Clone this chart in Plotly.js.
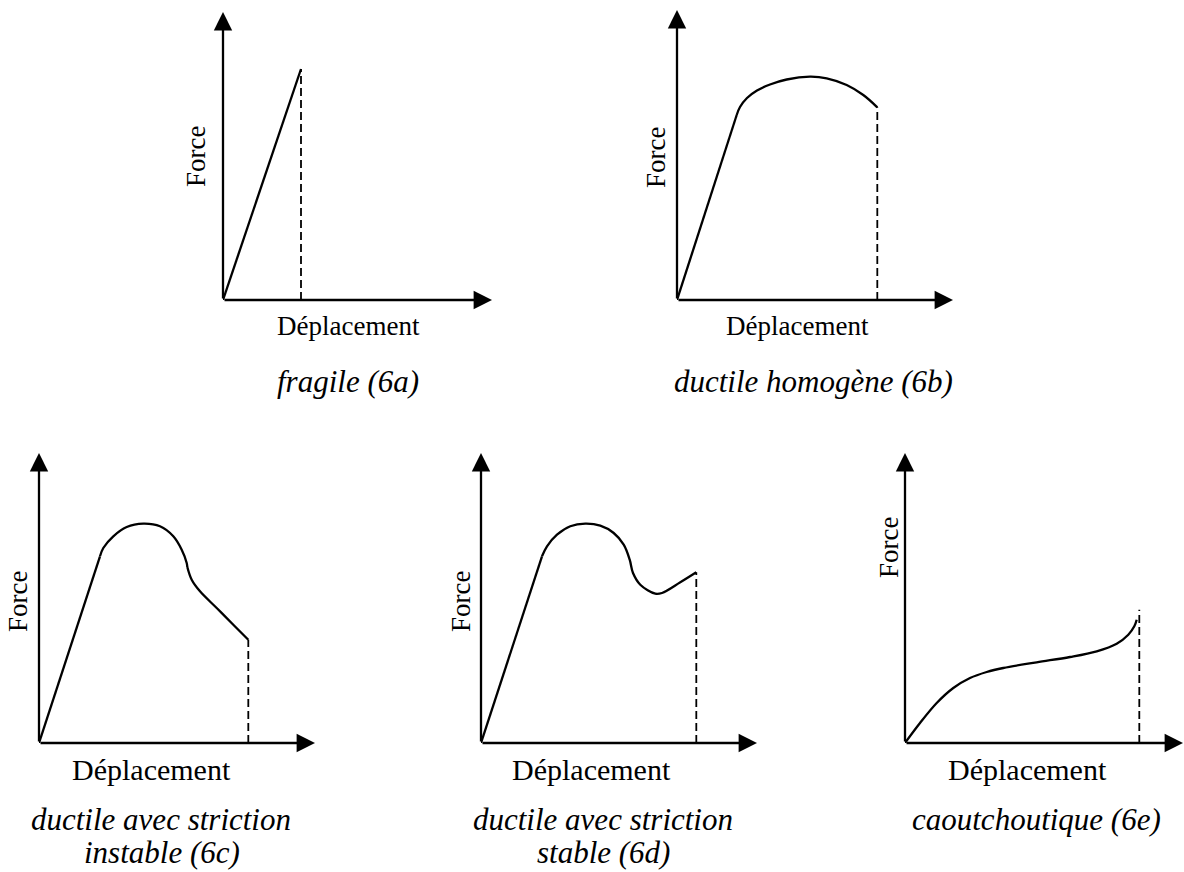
<!DOCTYPE html>
<html><head><meta charset="utf-8">
<script src="https://cdn.plot.ly/plotly-3.0.1.min.js"></script>
<style>html,body{margin:0;padding:0;background:#fff}</style>
</head><body><div id="chart" style="width:1184px;height:872px"></div>
<script>
// ---- data (x = déplacement, y = force, arbitrary units) ----
const fragileX = [0, 78];
const fragileY = [0, 231];
const fragileRuptureX = [78, 78];
const fragileRuptureY = [0, 231];

const homogeneRiseX = [0, 59.7];
const homogeneRiseY = [0, 185];
const homogeneArcX = [59.7, 63, 70, 80, 93, 109.7, 133, 149.7, 169.7, 186.3, 200.3];
const homogeneArcY = [185, 193, 202, 209.5, 215.5, 220.5, 223.3, 221.7, 215, 205, 192.7];
const homogeneRuptureX = [200.3, 200.3];
const homogeneRuptureY = [0, 192.7];

const instableRiseX = [0, 61];
const instableRiseY = [0, 186.7];
const instablePeakX = [61, 64.3, 74.3, 87.7, 104.3, 121, 134.3, 142.7, 147.7, 148.3];
const instablePeakY = [186.7, 195, 206.7, 216, 219.3, 216.7, 206.7, 193.3, 180, 176];
const instableNeckX = [148.3, 152.7, 161, 177.7, 194.3, 209.3];
const instableNeckY = [176, 163.3, 151.7, 135, 118.3, 103.3];
const instableRuptureX = [209.3, 209.3];
const instableRuptureY = [0, 103.3];

const stableRiseX = [0, 61];
const stableRiseY = [0, 186.7];
const stableNeckX = [61, 66, 76, 89.3, 104.3, 119.3, 132.7, 142.7, 148.7, 152, 159.3, 174.3, 181, 199.3, 215.3];
const stableNeckY = [186.7, 196.7, 208.3, 216.7, 219.3, 217.3, 210, 198.3, 183.3, 170, 158.3, 149.3, 150, 160.7, 170.7];
const stableRuptureX = [215.3, 215.3];
const stableRuptureY = [0, 170.7];

const caoutchoucX = [0, 15, 31.7, 48.3, 65, 81.7, 98.3, 131.7, 165, 191.7, 211.7, 223.3, 229.3, 231.7];
const caoutchoucY = [0, 20, 40, 55, 65, 71, 75, 80.7, 86, 91.7, 99.3, 108.3, 116.7, 123.3];
const caoutchoucRuptureX = [234.3, 234.3];
const caoutchoucRuptureY = [0, 133.3];

const axisLengthX = [269, 276, 276, 276, 278];
const axisLengthY = [288, 290, 290, 290, 290];

const forceLabel = 'Force';
const displacementLabel = 'Déplacement';
const captions = [
  ['fragile (6a)'],
  ['ductile homogène (6b)'],
  ['ductile avec striction', 'instable (6c)'],
  ['ductile avec striction', 'stable (6d)'],
  ['caoutchoutique (6e)']
];

// ---- layout (pixel placement of panels and texts) ----
const W = 1184, H = 872;
const origins = [[223, 300], [677, 300], [39, 743], [481, 743], [905, 743]];
const forcePos = [[196, 157], [656, 158], [18, 602], [461, 602], [889, 548]];
const dispPos = [[349, 326, 27], [797, 326, 27], [151, 769, 30], [591, 769, 30], [1027, 769, 30]];
const capPos = [[[348, 381]], [[813, 381]], [[161, 819], [162, 852]], [[603, 819], [603, 852]], [[1036, 819]]];

const px = v => v / W;
const py = v => 1 - v / H;
const ax = i => (i === 0 ? '' : String(i + 1));

const solid = {color: '#000', width: 2.3};
const dashed = {color: '#000', width: 1.8, dash: '8px,4px'};
const serif = 'Liberation Serif, Times New Roman, serif';

function tr(i, xs, ys, line, shape) {
  return {x: xs, y: ys, type: 'scatter', mode: 'lines', xaxis: 'x' + ax(i), yaxis: 'y' + ax(i),
    line: Object.assign({shape: shape || 'linear', smoothing: 1}, line), hoverinfo: 'skip', showlegend: false};
}

const traces = [
  tr(0, fragileX, fragileY, solid),
  tr(0, fragileRuptureX, fragileRuptureY, dashed),
  tr(1, homogeneRiseX, homogeneRiseY, solid),
  tr(1, homogeneArcX, homogeneArcY, solid, 'spline'),
  tr(1, homogeneRuptureX, homogeneRuptureY, dashed),
  tr(2, instableRiseX, instableRiseY, solid),
  tr(2, instablePeakX, instablePeakY, solid, 'spline'),
  tr(2, instableNeckX, instableNeckY, solid, 'spline'),
  tr(2, instableRuptureX, instableRuptureY, dashed),
  tr(3, stableRiseX, stableRiseY, solid),
  tr(3, stableNeckX, stableNeckY, solid, 'spline'),
  tr(3, stableRuptureX, stableRuptureY, dashed),
  tr(4, caoutchoucX, caoutchoucY, solid, 'spline'),
  tr(4, caoutchoucRuptureX, caoutchoucRuptureY, dashed)
];

const layout = {
  width: W, height: H, margin: {l: 0, r: 0, t: 0, b: 0},
  paper_bgcolor: '#fff', plot_bgcolor: 'rgba(0,0,0,0)', showlegend: false,
  annotations: [], font: {family: serif, color: '#000'}
};

const hidden = {showgrid: false, zeroline: false, showline: false, showticklabels: false, ticks: '', fixedrange: true};

for (let i = 0; i < 5; i++) {
  const [ox, oy] = origins[i];
  const lx = axisLengthX[i], ly = axisLengthY[i];
  const xa = 'x' + ax(i), ya = 'y' + ax(i);
  layout['xaxis' + ax(i)] = Object.assign({}, hidden, {domain: [px(ox), px(ox + lx)], range: [0, lx], anchor: ya});
  layout['yaxis' + ax(i)] = Object.assign({}, hidden, {domain: [py(oy), py(oy - ly)], range: [0, ly], anchor: xa});
  // axes with arrowheads
  const arrow = {xref: xa, yref: ya, axref: xa, ayref: ya, ax: 0, ay: 0, text: '', showarrow: true,
    arrowhead: 2, arrowsize: 1.6, arrowwidth: 2.3, arrowcolor: '#000', standoff: 0};
  layout.annotations.push(Object.assign({}, arrow, {x: lx, y: 0}));
  layout.annotations.push(Object.assign({}, arrow, {x: 0, y: ly}));
  // Force label
  layout.annotations.push({xref: 'paper', yref: 'paper', x: px(forcePos[i][0]), y: py(forcePos[i][1]),
    xanchor: 'center', yanchor: 'middle', text: forceLabel, textangle: -90, showarrow: false,
    font: {family: serif, size: 27, color: '#000'}});
  // Déplacement label
  layout.annotations.push({xref: 'paper', yref: 'paper', x: px(dispPos[i][0]), y: py(dispPos[i][1]),
    xanchor: 'center', yanchor: 'middle', text: displacementLabel, showarrow: false,
    font: {family: serif, size: dispPos[i][2], color: '#000'}});
  // captions
  captions[i].forEach((t, k) => {
    layout.annotations.push({xref: 'paper', yref: 'paper', x: px(capPos[i][k][0]), y: py(capPos[i][k][1]),
      xanchor: 'center', yanchor: 'middle', text: '<i>' + t + '</i>', showarrow: false,
      font: {family: serif, size: 31, color: '#000'}});
  });
}

Plotly.newPlot('chart', traces, layout, {staticPlot: true, displayModeBar: false});
</script>
</body></html>
